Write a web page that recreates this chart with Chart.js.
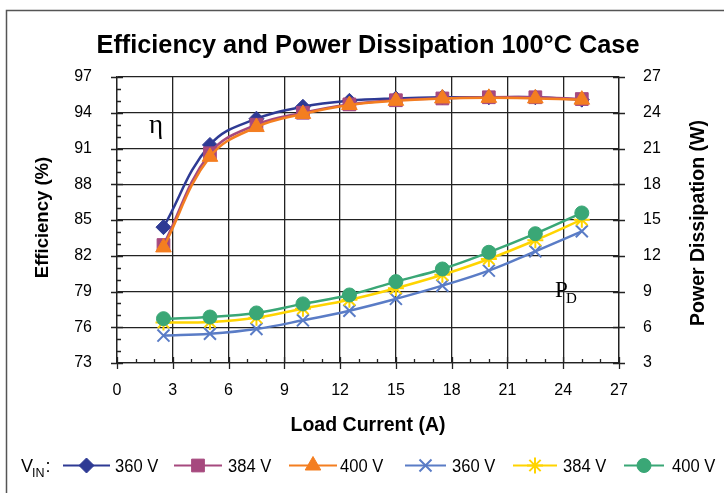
<!DOCTYPE html>
<html><head><meta charset="utf-8">
<script src="https://cdn.jsdelivr.net/npm/chart.js@4/dist/chart.umd.min.js"></script>
<style>html,body{margin:0;padding:0;background:#fff;overflow:hidden}</style>
</head><body>
<canvas id="c" width="724" height="493" style="width:724px;height:493px;display:block"></canvas>
<script>
// ---- data ----
const loadCurrent = [2.5, 5, 7.5, 10, 12.5, 15, 17.5, 20, 22.5, 25];
const eff360 = [84.4, 91.3, 93.5, 94.5, 95.0, 95.2, 95.3, 95.3, 95.3, 95.1];
const eff384 = [82.9, 90.6, 93.0, 94.0, 94.7, 95.05, 95.2, 95.3, 95.3, 95.15];
const eff400 = [82.7, 90.3, 92.8, 93.9, 94.65, 95.0, 95.2, 95.25, 95.2, 95.1];
const pd360 = [5.3, 5.46, 5.86, 6.58, 7.39, 8.38, 9.49, 10.75, 12.37, 14.05];
const pd384 = [6.4, 6.45, 6.8, 7.56, 8.3, 9.27, 10.4, 11.73, 13.3, 15.03];
const pd400 = [6.72, 6.86, 7.2, 7.96, 8.71, 9.83, 10.89, 12.29, 13.85, 15.59];
const seriesLabels = ['360 V', '384 V', '400 V', '360 V', '384 V', '400 V'];
const xTicks = [0, 3, 6, 9, 12, 15, 18, 21, 24, 27];
const effTicks = [73, 76, 79, 82, 85, 88, 91, 94, 97];
const pdTicks = [3, 6, 9, 12, 15, 18, 21, 24, 27];
const titleText = 'Efficiency and Power Dissipation 100\u00B0C Case';
const xTitle = 'Load Current (A)';
const yTitle = 'Efficiency (%)';
const y2Title = 'Power Dissipation (W)';

const pts = arr => arr.map((v, i) => ({x: loadCurrent[i], y: v}));
const FONT = '"Liberation Sans", Arial, sans-serif';

const colors = ['#2E3A94', '#A6497E', '#F47E20', '#5A7CC6', '#FFD400', '#3AA776'];
const styles = ['rectRot', 'rect', 'triangle', 'crossRot', 'star', 'circle'];
const radii = [7.5, 9, 9, 8.5, 8, 7];
const data = [eff360, eff384, eff400, pd360, pd384, pd400];
const axes = ['y', 'y', 'y', 'y2', 'y2', 'y2'];
const orders = [2, 1, 0, 2, 1, 0];

const datasets = data.map((d, i) => ({
  label: seriesLabels[i],
  data: pts(d),
  yAxisID: axes[i],
  borderColor: colors[i],
  backgroundColor: colors[i],
  pointBackgroundColor: colors[i],
  pointBorderColor: colors[i],
  pointStyle: styles[i],
  pointRadius: radii[i],
  pointBorderWidth: (i >= 3 && i <= 4) ? 2 : 1,
  borderWidth: 2.5,
  tension: 0.4,
  order: orders[i],
  fill: false
}));

const decor = {
  id: 'decor',
  beforeDraw(chart) {
    const ctx = chart.ctx;
    ctx.save();
    ctx.fillStyle = '#fff';
    ctx.fillRect(0, 0, chart.width, chart.height);
    ctx.strokeStyle = '#555';
    ctx.lineWidth = 1.5;
    ctx.beginPath();
    ctx.moveTo(6.5, 500); ctx.lineTo(6.5, 10.5); ctx.lineTo(730, 10.5);
    ctx.stroke();
    ctx.restore();
  },
  afterDatasetsDraw(chart) {
    const ctx = chart.ctx;
    const xs = chart.scales.x, ys = chart.scales.y, y2 = chart.scales.y2;
    const ca = chart.chartArea;
    ctx.save();
    ctx.strokeStyle = '#222';
    ctx.lineWidth = 1.3;
    ctx.beginPath();
    for (let v = ys.min; v <= ys.max + 1e-9; v += 1) {
      const y = Math.round(ys.getPixelForValue(v)) + 0.5;
      const major = ((v - ys.min) % 3) === 0;
      if (major) { ctx.moveTo(ca.left - 6, y); ctx.lineTo(ca.left + 6, y); }
      else { ctx.moveTo(ca.left, y); ctx.lineTo(ca.left + 4, y); }
    }
    for (let v = y2.min; v <= y2.max + 1e-9; v += 3) {
      const y = Math.round(y2.getPixelForValue(v)) + 0.5;
      ctx.moveTo(ca.right - 6, y); ctx.lineTo(ca.right + 6, y);
    }
    for (let v = xs.min; v <= xs.max + 1e-9; v += 1) {
      const x = Math.round(xs.getPixelForValue(v)) + 0.5;
      const major = ((v - xs.min) % 3) === 0;
      if (major) { ctx.moveTo(x, ca.bottom - 6); ctx.lineTo(x, ca.bottom + 6); }
      else { ctx.moveTo(x, ca.bottom); ctx.lineTo(x, ca.bottom - 4); }
    }
    ctx.stroke();

    ctx.fillStyle = '#000';
    ctx.font = 'bold 25.3px ' + FONT;
    ctx.textAlign = 'center';
    ctx.textBaseline = 'alphabetic';
    ctx.fillText(titleText, 368, 53);
    ctx.font = 'bold 19.5px ' + FONT;
    ctx.fillText(xTitle, 368, 431);
    ctx.font = 'bold 18.5px ' + FONT;
    ctx.save();
    ctx.translate(48, 217.5);
    ctx.rotate(-Math.PI / 2);
    ctx.fillText(yTitle, 0, 0);
    ctx.restore();
    ctx.font = 'bold 19.5px ' + FONT;
    ctx.save();
    ctx.translate(704, 223);
    ctx.rotate(-Math.PI / 2);
    ctx.fillText(y2Title, 0, 0);
    ctx.restore();

    ctx.font = '27px "Liberation Serif", "Times New Roman", serif';
    ctx.textAlign = 'left';
    ctx.fillText('\u03B7', 149, 133);
    ctx.font = '23px "Liberation Serif", "Times New Roman", serif';
    ctx.fillText('P', 555, 297);
    ctx.font = '15px "Liberation Serif", "Times New Roman", serif';
    ctx.fillText('D', 566, 303);

    // legend
    const ly = 465.5;
    ctx.textBaseline = 'alphabetic';
    ctx.font = '18px ' + FONT;
    ctx.fillText('V', 21, ly + 6.5);
    ctx.font = '12.5px ' + FONT;
    ctx.fillText('IN', 32, ly + 11);
    ctx.font = '18px ' + FONT;
    ctx.fillText(':', 45.5, ly + 6.5);
    const lx1 = [63, 174, 289, 405, 513, 624];
    const lx2 = [110, 222, 337, 446, 557, 664];
    const tx = [115, 228, 340, 452, 563, 672];
    chart.data.datasets.forEach((ds, i) => {
      ctx.strokeStyle = ds.borderColor;
      ctx.lineWidth = 2;
      ctx.beginPath();
      ctx.moveTo(lx1[i], ly); ctx.lineTo(lx2[i], ly);
      ctx.stroke();
      ctx.fillStyle = ds.backgroundColor;
      ctx.lineWidth = ds.pointBorderWidth;
      Chart.helpers.drawPoint(ctx, {pointStyle: ds.pointStyle, radius: ds.pointRadius, borderWidth: ds.pointBorderWidth, rotation: 0}, (lx1[i] + lx2[i]) / 2, ly);
      ctx.fillStyle = '#000';
      ctx.save();
      ctx.translate(tx[i], ly + 6.5);
      ctx.scale(0.92, 1);
      ctx.fillText(ds.label, 0, 0);
      ctx.restore();
    });
    ctx.restore();
  }
};

new Chart(document.getElementById('c'), {
  type: 'line',
  data: { datasets },
  options: {
    responsive: false,
    animation: false,
    devicePixelRatio: 1,
    layout: { padding: { left: 0, right: 0, top: 77, bottom: 0 } },
    plugins: { legend: { display: false }, tooltip: { enabled: false }, title: { display: false } },
    scales: {
      x: {
        type: 'linear', min: 0, max: 27,
        afterBuildTicks: s => { s.ticks = xTicks.map(v => ({value: v})); },
        afterFit: s => { s.height = 130; },
        ticks: { padding: 18, color: '#000', font: { family: FONT, size: 16 } },
        grid: { color: '#222', lineWidth: 1.3, drawTicks: false },
        border: { display: true, color: '#222', width: 1.3 }
      },
      y: {
        type: 'linear', position: 'left', min: 73, max: 97,
        afterBuildTicks: s => { s.ticks = effTicks.map(v => ({value: v})); },
        afterFit: s => { s.width = 117; },
        ticks: { padding: 25, color: '#000', font: { family: FONT, size: 16 } },
        grid: { color: '#222', lineWidth: 1.3, drawTicks: false },
        border: { display: true, color: '#222', width: 1.3 }
      },
      y2: {
        type: 'linear', position: 'right', min: 3, max: 27,
        afterBuildTicks: s => { s.ticks = pdTicks.map(v => ({value: v})); },
        afterFit: s => { s.width = 105; },
        ticks: { padding: 24, color: '#000', font: { family: FONT, size: 16 } },
        grid: { display: false, drawTicks: false },
        border: { display: true, color: '#222', width: 1.3 }
      }
    }
  },
  plugins: [decor]
});
</script>
</body></html>
